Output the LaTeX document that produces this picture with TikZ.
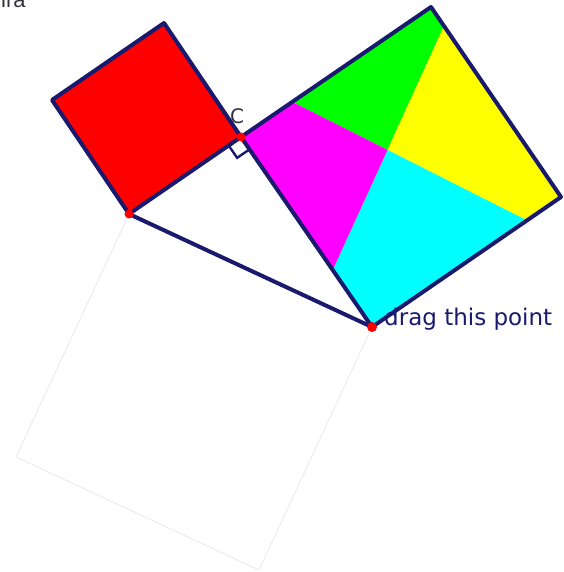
\documentclass[tikz,border=0pt]{standalone}
\usepackage{fontspec}
\setmainfont{DejaVu Sans}
\newfontfamily\arialfont{Liberation Sans}
\usetikzlibrary{calc}
\definecolor{navy}{RGB}{25,25,110}
\definecolor{faint}{RGB}{236,236,238}
\definecolor{labelgray}{RGB}{50,50,60}
\definecolor{pgreen}{RGB}{0,255,0}
\definecolor{pyellow}{RGB}{255,255,0}
\definecolor{pcyan}{RGB}{0,255,255}
\definecolor{pmagenta}{RGB}{255,0,255}
\definecolor{pred}{RGB}{255,0,0}
\tikzset{
  edge/.style={draw=navy,line width=4pt,line join=round,line cap=round},
  thinedge/.style={draw=navy,line width=2.4pt,line join=miter},
  ghost/.style={draw=faint,line width=1pt},
  dotpt/.style={fill=pred,draw=none},
}
\begin{document}
\begin{tikzpicture}[x=1pt,y=-1pt]
\useasboundingbox (0,0) rectangle (563,572);
% key points
\coordinate (C) at (241,137);
\coordinate (A) at (129,214);
\coordinate (B) at (372,327);
\coordinate (T) at (431,7);
\coordinate (R) at (561,197);
\coordinate (D1) at (52,100);
\coordinate (D2) at (164,23);
\coordinate (G1) at (16,457);
\coordinate (G2) at (259,570);
% dissection points
\coordinate (P1) at ($(C)!0.27!(T)$);
\coordinate (P2) at ($(T)!0.10!(R)$);
\coordinate (P3) at ($(R)!0.18!(B)$);
\coordinate (P4) at ($(B)!0.30!(C)$);
\coordinate (O) at (intersection of P1--P3 and P2--P4);
% faint square on hypotenuse
\draw[ghost] (A) -- (B) -- (G2) -- (G1) -- cycle;
% pieces
\fill[pgreen]   (P1) -- (T) -- (P2) -- (O) -- cycle;
\fill[pyellow]  (P2) -- (R) -- (P3) -- (O) -- cycle;
\fill[pcyan]    (P3) -- (B) -- (P4) -- (O) -- cycle;
\fill[pmagenta] (P4) -- (C) -- (P1) -- (O) -- cycle;
\draw[edge] (C) -- (T) -- (R) -- (B) -- cycle;
% red square
\filldraw[edge,fill=pred] (C) -- (A) -- (D1) -- (D2) -- cycle;
% hypotenuse
\draw[edge] (A) -- (B);
% right angle mark
\draw[thinedge] ($(C)!15pt!(A)$) -- ($($(C)!15pt!(A)$)+($(C)!15pt!(B)$)-(C)$) -- ($(C)!15pt!(B)$);
% points
\fill[dotpt] (A) circle (4.5);
\fill[dotpt] (B) circle (5);
\fill[dotpt] (C) circle (4.5);
% labels
\node[anchor=base,text=labelgray,font=\fontsize{20}{20}\selectfont,inner sep=0] (lc) at (237,124) {C};
\node[anchor=base west,text=navy,font=\fontsize{23}{23}\selectfont,inner sep=0] (ld) at (384,325) {drag this point};
\node[anchor=base west,text=labelgray,font=\arialfont\fontsize{22}{22}\selectfont,inner sep=0] (li) at (1,8) {ira};
\end{tikzpicture}
\end{document}
